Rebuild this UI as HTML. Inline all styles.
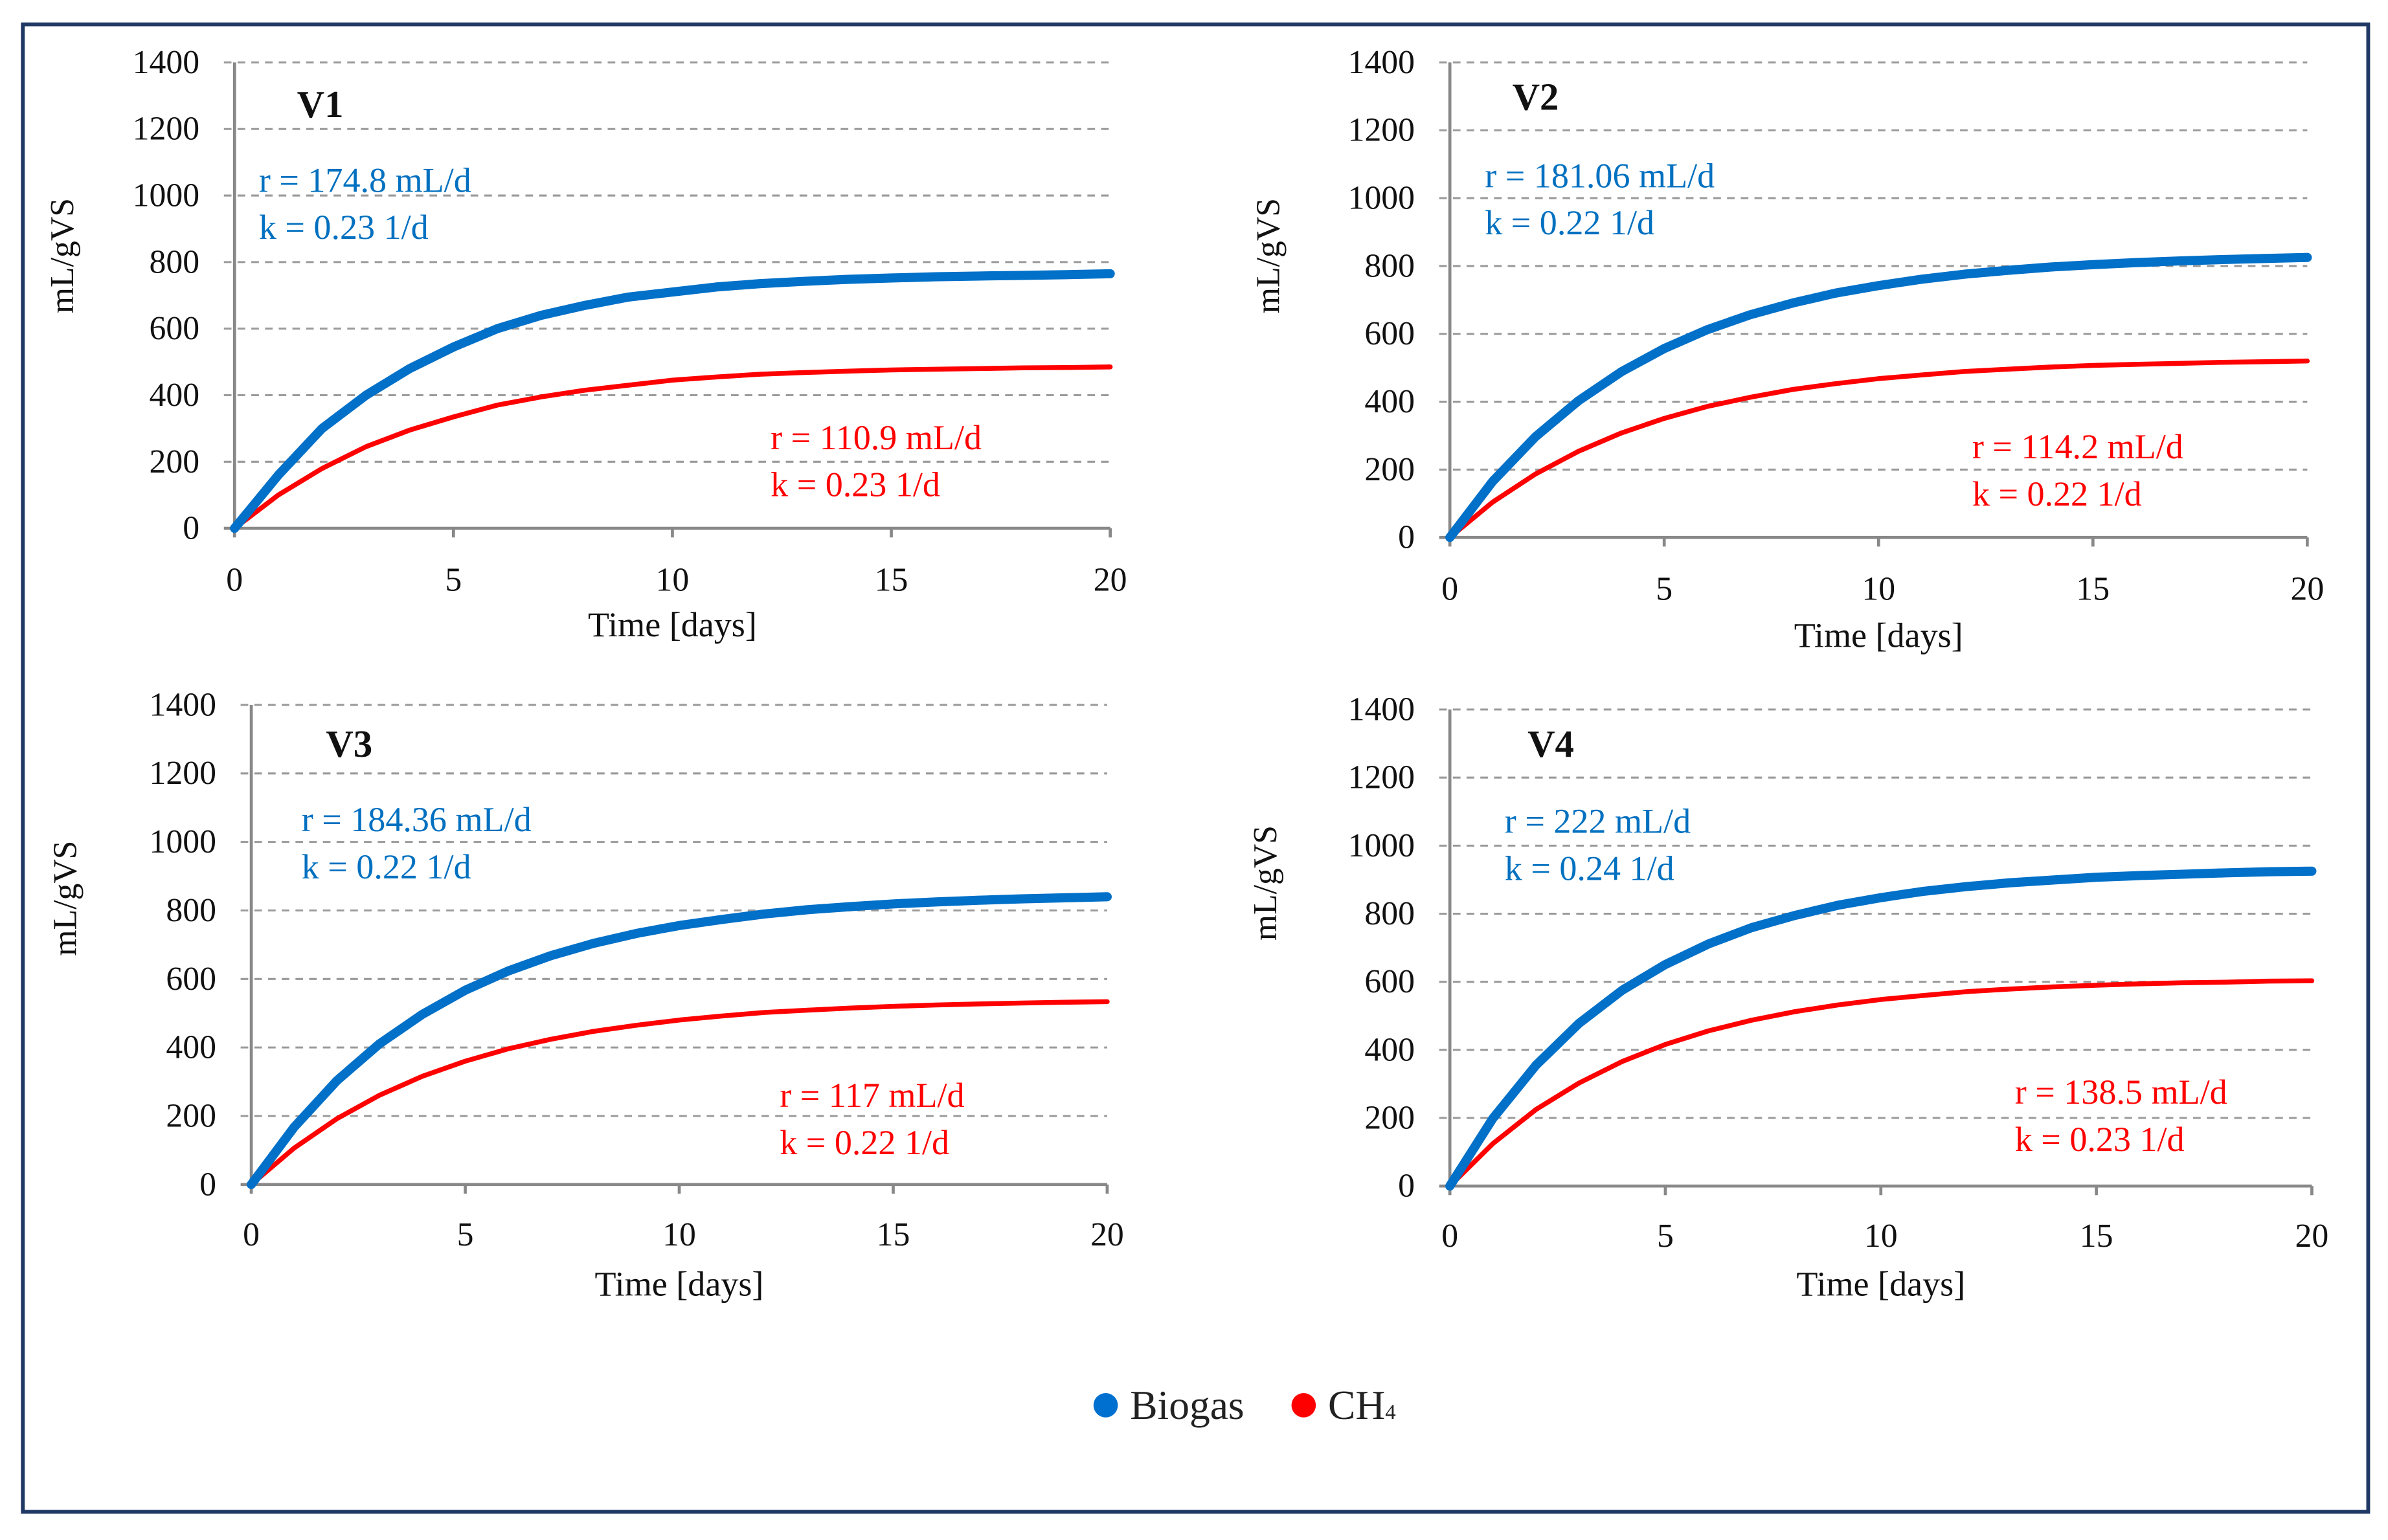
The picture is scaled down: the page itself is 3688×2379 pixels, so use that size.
<!DOCTYPE html>
<html><head><meta charset="utf-8"><style>
html,body{margin:0;padding:0;background:#fff;}
svg{display:block;font-family:"Liberation Serif",serif;}
</style></head><body>
<svg id="chart" width="3688" height="2379" viewBox="0 0 1568 1011.5" preserveAspectRatio="none" xmlns="http://www.w3.org/2000/svg">
<rect x="15" y="16" width="1540" height="977" fill="none" stroke="#1f3864" stroke-width="2.5"/>
<g id="plots"></g>
<g>
<circle cx="726" cy="923" r="8" fill="#0070d0"/>
<text x="742" y="932" font-size="27" fill="#222">Biogas</text>
<circle cx="856" cy="923" r="8" fill="#ff0000"/>
<text x="872" y="932" font-size="27" fill="#222">CH<tspan font-size="14">4</tspan></text>
</g>
</svg>
<script>
const days = [0,1,2,3,4,5,6,7,8,9,10,11,12,13,14,15,16,17,18,19,20];
const yTicks = [0,200,400,600,800,1000,1200,1400];
const xTicks = [0,5,10,15,20];
const v1Biogas = [0,160,300,400,480,545,600,640,670,695,710,725,735,742,748,752,756,758,760,762,765];
const v1Ch4 = [0,100,180,245,295,335,370,395,415,430,445,455,463,468,472,476,478,480,482,483,485];
const v2Biogas = [0,165,297,403,488,557,612,656,691,720,742,761,776,787,797,804,810,815,819,822,825];
const v2Ch4 = [0,104,187,254,308,351,386,413,436,453,468,479,489,496,502,507,510,513,516,518,520];
const v3Biogas = [0,167,303,411,497,567,623,668,704,733,756,774,790,802,811,819,825,830,834,837,840];
const v3Ch4 = [0,106,192,261,316,360,396,424,447,465,480,492,502,509,515,520,524,527,530,532,534];
const v4Biogas = [0,199,355,478,575,651,711,759,795,825,847,866,880,891,899,907,912,916,920,923,925];
const v4Ch4 = [0,125,225,303,366,416,456,487,512,532,548,560,571,579,585,590,594,597,599,602,603];
const titles = ["V1","V2","V3","V4"];
const blueNotes = [["r = 174.8 mL/d","k = 0.23 1/d"],["r = 181.06 mL/d","k = 0.22 1/d"],["r = 184.36 mL/d","k = 0.22 1/d"],["r = 222 mL/d","k = 0.24 1/d"]];
const redNotes = [["r = 110.9 mL/d","k = 0.23 1/d"],["r = 114.2 mL/d","k = 0.22 1/d"],["r = 117 mL/d","k = 0.22 1/d"],["r = 138.5 mL/d","k = 0.23 1/d"]];
const seriesB = [v1Biogas,v2Biogas,v3Biogas,v4Biogas];
const seriesR = [v1Ch4,v2Ch4,v3Ch4,v4Ch4];
const layout = [
 {x0:154,x1:729,y0:347,y1:41,ylx:48,yly:168,xly:388,xty:418,tx:195,ty:77,bx:170,by:126,rx:506,ry:295},
 {x0:952,x1:1515,y0:353,y1:41,ylx:840,yly:168,xly:394,xty:425,tx:993,ty:72,bx:975,by:123,rx:1295,ry:301},
 {x0:165,x1:727,y0:778,y1:463,ylx:50,yly:590,xly:818,xty:851,tx:214,ty:497,bx:198,by:546,rx:512,ry:727},
 {x0:952,x1:1518,y0:779,y1:466,ylx:838,yly:580,xly:819,xty:851,tx:1003,ty:497,bx:988,by:547,rx:1323,ry:725}
];
const NS="http://www.w3.org/2000/svg";
const root=document.getElementById('plots');
function mk(tag,attrs,parent,text){const e=document.createElementNS(NS,tag);for(const k in attrs)e.setAttribute(k,attrs[k]);if(text!==undefined)e.textContent=text;parent.appendChild(e);return e;}
layout.forEach((L,i)=>{
 const g=mk('g',{},root);
 
 
 const sx=t=>L.x0+(L.x1-L.x0)*t/20;
 const sy=v=>L.y0+(L.y1-L.y0)*v/1400;
 yTicks.forEach(v=>{
  if(v>0){const gl=mk('line',{x1:L.x0-7,x2:L.x1,y1:sy(v),y2:sy(v),stroke:'#9a9a9a','stroke-width':1.3,'stroke-dasharray':'5,4'},g);
  
  }
  const t=mk('text',{x:L.x0-23,y:sy(v)+7,'text-anchor':'end','font-size':22,fill:'#111'},g,String(v));
  
  
 });
 xTicks.forEach(v=>{
  const tk=mk('line',{x1:sx(v),x2:sx(v),y1:L.y0,y2:L.y0+6,stroke:'#888','stroke-width':2},g);
  
  
  const t=mk('text',{x:sx(v),y:L.xly,'text-anchor':'middle','font-size':22,fill:'#111'},g,String(v));
  
  
 });
 const ya=mk('line',{x1:L.x0,x2:L.x0,y1:L.y1,y2:L.y0,stroke:'#888','stroke-width':2},g);
 
 
 const xa=mk('line',{x1:L.x0-7,x2:L.x1,y1:L.y0,y2:L.y0,stroke:'#888','stroke-width':2},g);
 
 
 const yt=mk('text',{x:L.ylx,y:L.yly,'text-anchor':'middle','font-size':22,fill:'#111',transform:'rotate(-90 '+L.ylx+' '+L.yly+')'},g,'mL/gVS');
 
 
 const xt=mk('text',{x:(L.x0+L.x1)/2,y:L.xty,'text-anchor':'middle','font-size':23,fill:'#111'},g,'Time [days]');
 
 
 const pt=mk('text',{x:L.tx,y:L.ty,'font-size':25,'font-weight':'bold',fill:'#111'},g,titles[i]);
 
 
 blueNotes[i].forEach((s,j)=>{const t=mk('text',{x:L.bx,y:L.by+j*31,'font-size':23,fill:'#0070c0'},g,s);
  
  });
 redNotes[i].forEach((s,j)=>{const t=mk('text',{x:L.rx,y:L.ry+j*31,'font-size':23,fill:'#ff0000'},g,s);
  
  });
 const path=arr=>arr.map((v,k)=>(k?'L':'M')+sx(days[k]).toFixed(1)+' '+sy(v).toFixed(1)).join(' ');
 const r=mk('path',{d:path(seriesR[i]),fill:'none',stroke:'#ff0000','stroke-width':3.2,'stroke-linejoin':'round','stroke-linecap':'round'},g);
 
 
 const b=mk('path',{d:path(seriesB[i]),fill:'none',stroke:'#0070c8','stroke-width':6,'stroke-linejoin':'round','stroke-linecap':'round'},g);
 
 
});
</script>
</body></html>
